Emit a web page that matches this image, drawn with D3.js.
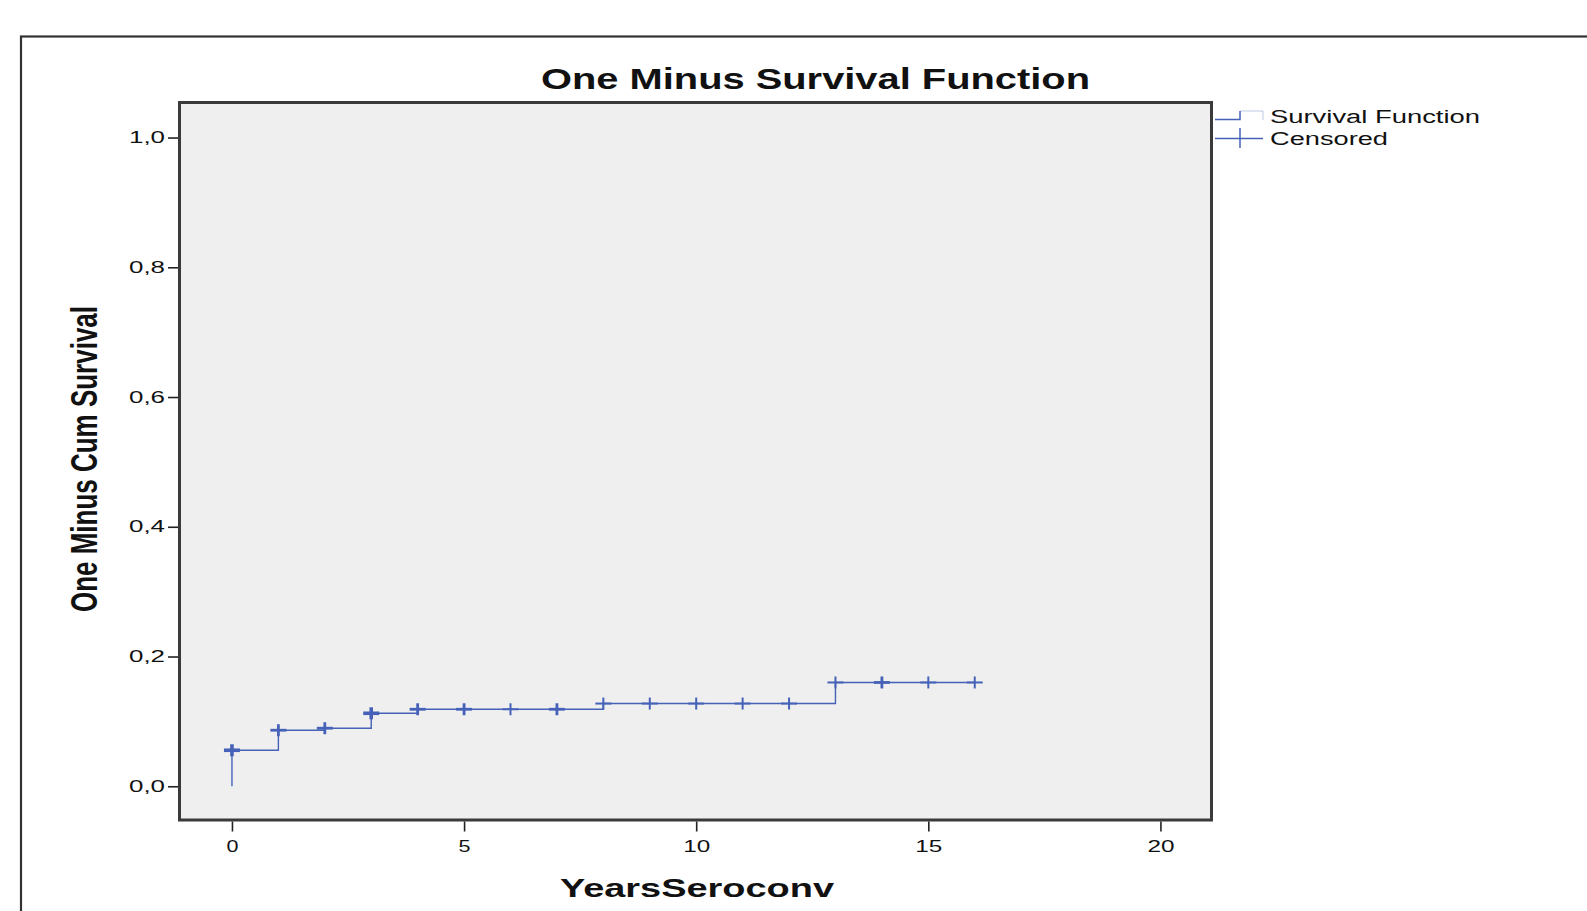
<!DOCTYPE html>
<html>
<head>
<meta charset="utf-8">
<script src="https://cdn.jsdelivr.net/npm/d3@7"></script>
<style>
  html, body { margin: 0; padding: 0; background: #fff; }
  svg { display: block; }
  text { font-family: "Liberation Sans", Arial, sans-serif; fill: #111; }
</style>
</head>
<body>
<svg id="chart" width="1587" height="911"></svg>
<script>
// ---- data ----
const titleText = "One Minus Survival Function";
const xLabel = "YearsSeroconv";
const yLabel = "One Minus Cum Survival";
const legendLabels = ["Survival Function", "Censored"];

const xTicks = [0, 5, 10, 15, 20];
const yTicks = [0.0, 0.2, 0.4, 0.6, 0.8, 1.0];

// step function: event times and one-minus-survival value after each event
const eventTimes  = [0, 1, 2, 3, 4, 8, 13];
const eventValues = [0.0555, 0.0864, 0.0895, 0.1125, 0.1187, 0.1275, 0.160];
const lastTime = 16;

// censored observations (time, multiplicity estimate)
const censorTimes  = [0, 1, 2, 3, 4, 5, 6, 7, 8, 9, 10, 11, 12, 13, 14, 15, 16];
const censorCounts = [3, 2, 2, 3, 2, 2, 1, 2, 1, 1, 1, 1, 1, 1, 2, 1, 1];

// ---- layout ----
const svg = d3.select("#chart");
const plot = { left: 179.5, right: 1211.5, top: 102.5, bottom: 820 };
const lineColor = "#4562b8";

const x = d3.scaleLinear().domain([-1.13, 21.1]).range([plot.left, plot.right]);
const y = d3.scaleLinear().domain([-0.052, 1.054]).range([plot.bottom, plot.top]);

// outer frame
svg.append("rect")
  .attr("x", 21).attr("y", 36.5)
  .attr("width", 1600).attr("height", 900)
  .attr("fill", "none").attr("stroke", "#333").attr("stroke-width", 2.2);

// plot background
svg.append("rect")
  .attr("x", plot.left).attr("y", plot.top)
  .attr("width", plot.right - plot.left).attr("height", plot.bottom - plot.top)
  .attr("fill", "#efefef");

// step path
function valueAt(t) {
  let v = 0;
  for (let i = 0; i < eventTimes.length; i++) if (eventTimes[i] <= t) v = eventValues[i];
  return v;
}
const pts = [[0, 0]];
eventTimes.forEach((t, i) => pts.push([t, eventValues[i]]));
pts.push([lastTime, eventValues[eventValues.length - 1]]);
const line = d3.line().x(d => x(d[0])).y(d => y(d[1])).curve(d3.curveStepBefore);
// stepBefore from (t_prev, v_prev) to (t, v): vertical at t_prev, which is wrong;
// use stepAfter: horizontal at v_prev until t, then vertical to v
line.curve(d3.curveStepAfter);
svg.append("path")
  .attr("d", line(pts))
  .attr("fill", "none")
  .attr("stroke", lineColor)
  .attr("stroke-width", 1.4);

// censored marks
const cg = svg.append("g");
censorTimes.forEach((t, i) => {
  const cx = x(t), cy = y(valueAt(t));
  const w = 1.2 + censorCounts[i] * 0.8;
  cg.append("line").attr("x1", cx - 8).attr("x2", cx + 8).attr("y1", cy).attr("y2", cy)
    .attr("stroke", lineColor).attr("stroke-width", w);
  cg.append("line").attr("x1", cx).attr("x2", cx).attr("y1", cy - 6).attr("y2", cy + 6)
    .attr("stroke", lineColor).attr("stroke-width", w);
});

// plot border
svg.append("rect")
  .attr("x", plot.left).attr("y", plot.top)
  .attr("width", plot.right - plot.left).attr("height", plot.bottom - plot.top)
  .attr("fill", "none").attr("stroke", "#3a3a3a").attr("stroke-width", 3);

// y axis
const yAxis = d3.axisLeft(y).tickValues(yTicks).tickSize(10).tickPadding(3)
  .tickFormat(d => d3.format(".1f")(d).replace(".", ","));
const yg = svg.append("g").attr("transform", `translate(${plot.left - 1.5},0)`).call(yAxis);
yg.select(".domain").remove();
yg.selectAll(".tick line").attr("stroke", "#222").attr("stroke-width", 1.6);
yg.selectAll(".tick text")
  .attr("font-size", 16).attr("fill", "#222")
  .attr("textLength", 36).attr("lengthAdjust", "spacingAndGlyphs")
  .attr("font-family", "Liberation Sans, Arial, sans-serif");

// x axis
const xAxis = d3.axisBottom(x).tickValues(xTicks).tickSize(10).tickPadding(9)
  .tickFormat(d3.format("d"));
const xg = svg.append("g").attr("transform", `translate(0,${plot.bottom + 1.5})`).call(xAxis);
xg.select(".domain").remove();
xg.selectAll(".tick line").attr("stroke", "#222").attr("stroke-width", 1.6);
xg.selectAll(".tick text")
  .attr("font-size", 16).attr("fill", "#222")
  .attr("textLength", d => String(d).length > 1 ? 27 : 12)
  .attr("lengthAdjust", "spacingAndGlyphs")
  .attr("font-family", "Liberation Sans, Arial, sans-serif");

// title
svg.append("text")
  .attr("x", 815.5).attr("y", 89)
  .attr("text-anchor", "middle")
  .attr("font-size", 30).attr("font-weight", "bold")
  .attr("textLength", 549).attr("lengthAdjust", "spacingAndGlyphs")
  .text(titleText);

// x label
svg.append("text")
  .attr("x", 697).attr("y", 897)
  .attr("text-anchor", "middle")
  .attr("font-size", 25).attr("font-weight", "bold")
  .attr("textLength", 274).attr("lengthAdjust", "spacingAndGlyphs")
  .text(xLabel);

// y label
svg.append("text")
  .attr("transform", "translate(97,459) rotate(-90)")
  .attr("text-anchor", "middle")
  .attr("font-size", 37).attr("font-weight", "bold")
  .attr("textLength", 306).attr("lengthAdjust", "spacingAndGlyphs")
  .text(yLabel);

// legend
const lg = svg.append("g");
// survival function symbol
lg.append("path")
  .attr("d", "M1215,119.5 H1240 V111")
  .attr("fill", "none").attr("stroke", lineColor).attr("stroke-width", 1.5);
lg.append("path")
  .attr("d", "M1240,111 H1263 V120")
  .attr("fill", "none").attr("stroke", lineColor).attr("stroke-width", 1).attr("stroke-opacity", 0.35);
lg.append("text")
  .attr("x", 1270).attr("y", 123)
  .attr("font-size", 18)
  .attr("textLength", 210).attr("lengthAdjust", "spacingAndGlyphs")
  .text(legendLabels[0]);
// censored symbol
lg.append("line").attr("x1", 1215).attr("x2", 1263).attr("y1", 138.5).attr("y2", 138.5)
  .attr("stroke", lineColor).attr("stroke-width", 1.5);
lg.append("line").attr("x1", 1240).attr("x2", 1240).attr("y1", 128).attr("y2", 148)
  .attr("stroke", lineColor).attr("stroke-width", 1.5);
lg.append("text")
  .attr("x", 1270).attr("y", 145)
  .attr("font-size", 18)
  .attr("textLength", 118).attr("lengthAdjust", "spacingAndGlyphs")
  .text(legendLabels[1]);
</script>
</body>
</html>
